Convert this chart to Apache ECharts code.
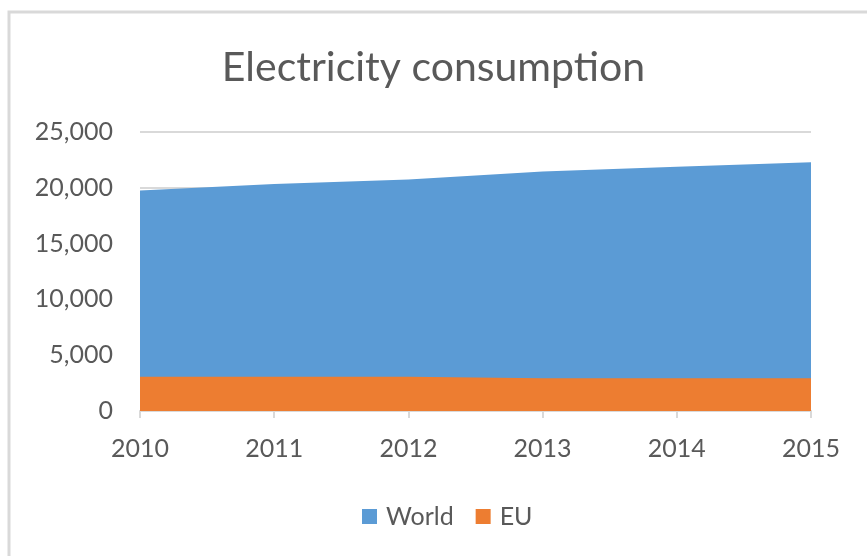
<!DOCTYPE html>
<html><head><meta charset="utf-8">
<script src="https://cdn.jsdelivr.net/npm/echarts@6/dist/echarts.min.js"></script>
<style>html,body{margin:0;padding:0;background:#fff}#c{width:867px;height:556px}</style>
</head><body><div id="c"></div>
<script>
const years = ['2010','2011','2012','2013','2014','2015'];
const world = [19750, 20350, 20750, 21450, 21880, 22300];
const eu = [3080, 3070, 3060, 2940, 2930, 2930];
const chart = echarts.init(document.getElementById('c'));
const font = 'Lato';
chart.setOption({
  animation: false,
  backgroundColor: '#fff',
  graphic: [{type:'rect', shape:{x:9, y:12, width:900, height:600}, style:{fill:'none', stroke:'#d9d9d9', lineWidth:3}, silent:true}],
  title: {text:'Electricity consumption', left:'center', top:42, textStyle:{fontFamily:font, fontSize:41, fontWeight:'normal', color:'#595959'}},
  legend: {bottom:22, left:357, itemWidth:15, itemHeight:15, itemGap:22, icon:'rect',
    textStyle:{fontFamily:font, fontSize:25, color:'#595959', padding:[0,0,0,4]}, data:['World','EU']},
  grid: {left:140, right:56, top:132, bottom:145},
  xAxis: {type:'category', data:years, boundaryGap:false,
    axisLine:{lineStyle:{color:'#d9d9d9', width:2}},
    axisTick:{show:true, length:7, lineStyle:{color:'#d9d9d9', width:2}},
    axisLabel:{fontFamily:font, fontSize:25, color:'#595959', margin:25}},
  yAxis: {type:'value', min:0, max:25000, interval:5000,
    axisLine:{show:false}, axisTick:{show:false},
    splitLine:{lineStyle:{color:'#d9d9d9', width:2}},
    axisLabel:{fontFamily:font, fontSize:25, color:'#595959', margin:27,
      formatter: v => v.toLocaleString('en-US')}},
  series: [
    {name:'World', type:'line', data:world, symbol:'none', lineStyle:{width:0}, itemStyle:{color:'#5b9bd5'}, areaStyle:{color:'#5b9bd5', opacity:1}},
    {name:'EU', type:'line', data:eu, symbol:'none', lineStyle:{width:0}, itemStyle:{color:'#ed7d31'}, areaStyle:{color:'#ed7d31', opacity:1}}
  ]
});
</script></body></html>
